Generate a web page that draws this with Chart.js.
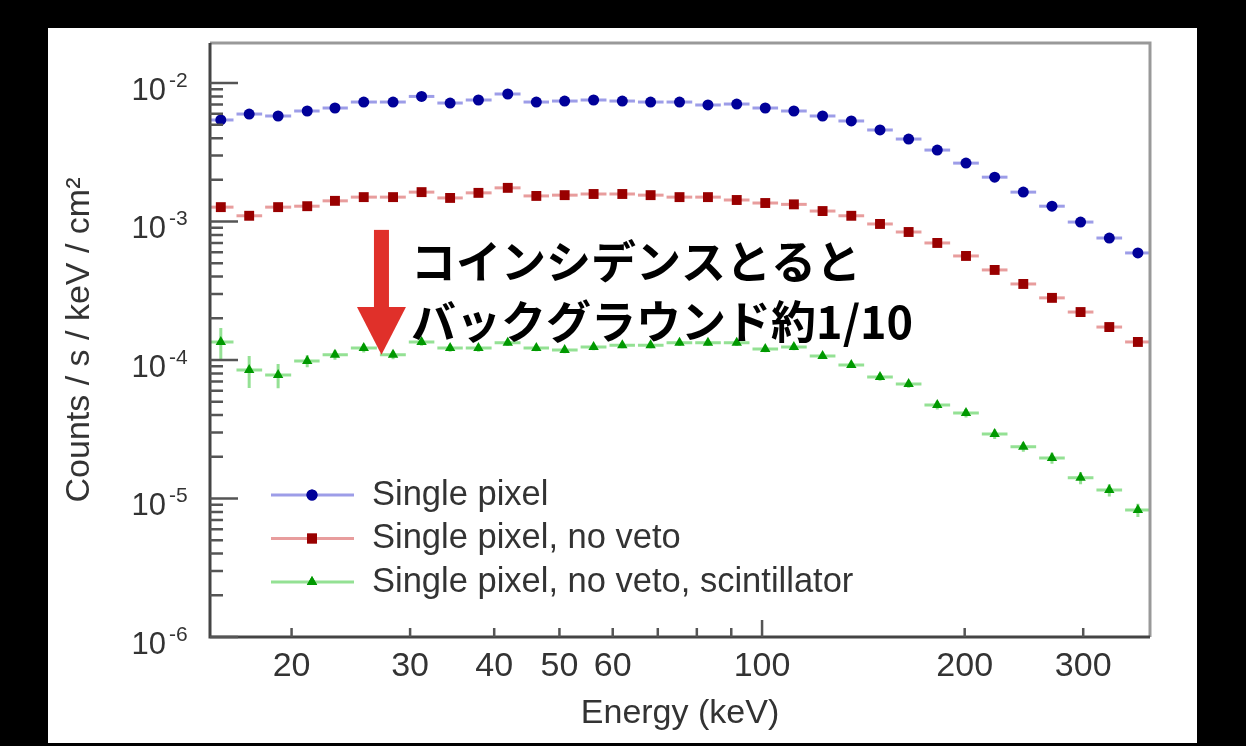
<!DOCTYPE html>
<html>
<head>
<meta charset="utf-8">
<script src="https://cdn.jsdelivr.net/npm/chart.js@4.4.0/dist/chart.umd.min.js"></script>
<style>
html, body { margin: 0; padding: 0; background: #000; width: 1246px; height: 746px; overflow: hidden; }
#panel { position: absolute; left: 48px; top: 28px; width: 1149px; height: 715px; background: #fff; }
</style>
</head>
<body>
<div id="panel"><canvas id="spectrum" width="1149" height="715"></canvas></div>
<script>
// bin centres (keV)
const energies = [15.7, 17.3, 19.1, 21.1, 23.2, 25.6, 28.3, 31.2, 34.4, 37.9, 41.9, 46.2, 50.9, 56.2, 62.0, 68.3,
    75.4, 83.1, 91.7, 101.1, 111.5, 123.0, 135.7, 149.7, 165.1, 182.1, 200.9, 221.6, 244.4, 269.6, 297.3, 328.0, 361.7];

const singlePixel = [5.41e-3, 5.97e-3, 5.78e-3, 6.28e-3, 6.60e-3, 7.29e-3, 7.29e-3, 8.0e-3, 7.17e-3, 7.54e-3, 8.33e-3,
    7.29e-3, 7.41e-3, 7.54e-3, 7.41e-3, 7.29e-3, 7.29e-3, 6.94e-3, 7.05e-3, 6.60e-3, 6.28e-3, 5.78e-3, 5.32e-3,
    4.58e-3, 3.94e-3, 3.28e-3, 2.64e-3, 2.09e-3, 1.63e-3, 1.29e-3, 9.91e-4, 7.60e-4, 5.93e-4];

const noVeto = [1.27e-3, 1.10e-3, 1.27e-3, 1.29e-3, 1.41e-3, 1.50e-3, 1.50e-3, 1.63e-3, 1.48e-3, 1.61e-3, 1.75e-3,
    1.53e-3, 1.55e-3, 1.58e-3, 1.58e-3, 1.55e-3, 1.50e-3, 1.50e-3, 1.43e-3, 1.36e-3, 1.33e-3, 1.19e-3, 1.10e-3,
    9.60e-4, 8.40e-4, 7.00e-4, 5.64e-4, 4.47e-4, 3.54e-4, 2.81e-4, 2.22e-4, 1.73e-4, 1.35e-4];

const scintillator = [1.35e-4, 8.47e-5, 7.80e-5, 9.84e-5, 1.09e-4, 1.22e-4, 1.09e-4, 1.35e-4, 1.22e-4, 1.22e-4, 1.33e-4,
    1.22e-4, 1.18e-4, 1.24e-4, 1.28e-4, 1.28e-4, 1.33e-4, 1.33e-4, 1.33e-4, 1.20e-4, 1.24e-4, 1.07e-4, 9.20e-5,
    7.54e-5, 6.71e-5, 4.73e-5, 4.14e-5, 2.92e-5, 2.36e-5, 1.96e-5, 1.41e-5, 1.15e-5, 8.26e-6];

// relative statistical error of the scintillator spectrum
const scintillatorErr = [0.26, 0.26, 0.2, 0.1, 0.08, 0.07, 0.07, 0.06, 0.06, 0.06, 0.05, 0.05, 0.05, 0.05, 0.05, 0.05,
    0.05, 0.05, 0.05, 0.05, 0.05, 0.05, 0.05, 0.06, 0.06, 0.07, 0.07, 0.08, 0.08, 0.09, 0.1, 0.1, 0.11];

const seriesLabels = ['Single pixel', 'Single pixel, no veto', 'Single pixel, no veto, scintillator'];
const xTickLabels = [20, 30, 40, 50, 60, 100, 200, 300];
const yDecades = [-6, -5, -4, -3, -2];

const FONT = '"Liberation Sans", Arial, sans-serif';
const TEXT = '#333';

const styles = [
    { marker: '#000099', bar: 'rgba(60,60,210,0.5)', pointStyle: 'circle', radius: 5.5 },
    { marker: '#990000', bar: 'rgba(210,60,60,0.5)', pointStyle: 'rect', radius: 7 },
    { marker: '#009900', bar: 'rgba(60,200,60,0.55)', pointStyle: 'triangle', radius: 6 }
];

function makeDataset(values, i, errs) {
    return {
        label: seriesLabels[i],
        data: energies.map((e, j) => ({ x: e, y: values[j] })),
        errs: errs,
        showLine: false,
        pointStyle: styles[i].pointStyle,
        pointRadius: styles[i].radius,
        pointBackgroundColor: styles[i].marker,
        pointBorderWidth: 0,
        barColor: styles[i].bar
    };
}

// horizontal bin bars + vertical error bars
const errorBars = {
    id: 'errorBars',
    beforeDatasetsDraw(chart) {
        const ctx = chart.ctx;
        const xs = chart.scales.x, ys = chart.scales.y;
        ctx.save();
        ctx.lineWidth = 3;
        chart.data.datasets.forEach(ds => {
            ctx.strokeStyle = ds.barColor;
            const px = ds.data.map(p => xs.getPixelForValue(p.x));
            ds.data.forEach((p, j) => {
                const x = px[j];
                const left = j > 0 ? (x + px[j - 1]) / 2 : x - (px[j + 1] - x) / 2;
                const right = j < px.length - 1 ? (x + px[j + 1]) / 2 : x + (x - px[j - 1]) / 2;
                const y = ys.getPixelForValue(p.y);
                ctx.beginPath();
                ctx.moveTo(Math.max(left + 1.5, chart.chartArea.left), y);
                ctx.lineTo(Math.min(right - 1.5, chart.chartArea.right), y);
                if (ds.errs) {
                    const e = ds.errs[j] * p.y;
                    ctx.moveTo(x, ys.getPixelForValue(p.y + e));
                    ctx.lineTo(x, ys.getPixelForValue(p.y - e));
                }
                ctx.stroke();
            });
        });
        ctx.restore();
    }
};

// ROOT-like frame, inward ticks, superscript y labels, legend and annotation
const decorations = {
    id: 'decorations',
    afterDraw(chart) {
        const ctx = chart.ctx;
        const a = chart.chartArea;
        const xs = chart.scales.x, ys = chart.scales.y;
        ctx.save();

        // frame
        ctx.lineWidth = 3;
        ctx.strokeStyle = '#999';
        ctx.beginPath();
        ctx.moveTo(a.left, a.top); ctx.lineTo(a.right, a.top); ctx.lineTo(a.right, a.bottom);
        ctx.stroke();
        ctx.strokeStyle = '#444';
        ctx.beginPath();
        ctx.moveTo(a.left, a.top); ctx.lineTo(a.left, a.bottom); ctx.lineTo(a.right, a.bottom);
        ctx.stroke();

        // y ticks
        ctx.lineWidth = 2.5;
        ctx.strokeStyle = '#555';
        ctx.beginPath();
        yDecades.forEach(d => {
            for (let m = 1; m <= 9; m++) {
                const v = m * Math.pow(10, d);
                if (v > ys.max) break;
                const y = ys.getPixelForValue(v);
                ctx.moveTo(a.left, y);
                ctx.lineTo(a.left + (m === 1 ? 28 : 13), y);
            }
        });
        // x ticks
        [1, 2].forEach(d => {
            for (let m = 1; m <= 9; m++) {
                const v = m * Math.pow(10, d);
                if (v < xs.min || v > xs.max) continue;
                const x = xs.getPixelForValue(v);
                ctx.moveTo(x, a.bottom);
                ctx.lineTo(x, a.bottom - (m === 1 ? 17 : 9));
            }
        });
        ctx.stroke();

        // y labels 10^n
        ctx.fillStyle = TEXT;
        ctx.textBaseline = 'middle';
        yDecades.forEach(d => {
            const y = ys.getPixelForValue(Math.pow(10, d));
            ctx.font = '31px ' + FONT;
            ctx.textAlign = 'right';
            ctx.fillText('10', a.left - 44, y + 8);
            ctx.font = '21px ' + FONT;
            ctx.textAlign = 'left';
            ctx.fillText('-' + Math.abs(d), a.left - 41, y - 2);
        });

        // legend
        const lx = a.left + 61, ly = a.top + 452, lh = 43.5;
        chart.data.datasets.forEach((ds, i) => {
            const y = ly + i * lh;
            ctx.strokeStyle = ds.barColor;
            ctx.lineWidth = 3;
            ctx.beginPath();
            ctx.moveTo(lx, y); ctx.lineTo(lx + 83, y);
            ctx.stroke();
            ctx.fillStyle = ds.pointBackgroundColor;
            Chart.helpers.drawPoint(ctx, { pointStyle: ds.pointStyle, radius: ds.pointRadius, rotation: 0, borderWidth: 0 }, lx + 41, y);
            ctx.fill();
            ctx.fillStyle = TEXT;
            ctx.font = '34.5px ' + FONT;
            ctx.textAlign = 'left';
            ctx.textBaseline = 'middle';
            ctx.fillText(ds.label, lx + 101, y);
        });

        // annotation arrow, anchored in data coordinates
        const ax = xs.getPixelForValue(27.2);
        const yTop = ys.getPixelForValue(8.7e-4);
        const yBase = ys.getPixelForValue(2.41e-4);
        const yTip = ys.getPixelForValue(1.09e-4);
        ctx.fillStyle = '#e0302a';
        ctx.fillRect(ax - 7.5, yTop, 15, yBase - yTop + 1);
        ctx.beginPath();
        ctx.moveTo(ax - 24.5, yBase);
        ctx.lineTo(ax + 24.5, yBase);
        ctx.lineTo(ax, yTip);
        ctx.closePath();
        ctx.fill();

        const tx = xs.getPixelForValue(30.1);
        ctx.fillStyle = '#000';
        ctx.font = 'bold 45px "Noto Sans CJK JP", sans-serif';
        ctx.textAlign = 'left';
        ctx.textBaseline = 'middle';
        ctx.fillText('コインシデンスとると', tx, ys.getPixelForValue(5.1e-4));
        ctx.fillText('バックグラウンド約1/10', tx, ys.getPixelForValue(1.88e-4));

        ctx.restore();
    }
};

new Chart(document.getElementById('spectrum'), {
    type: 'scatter',
    data: {
        datasets: [
            makeDataset(singlePixel, 0, null),
            makeDataset(noVeto, 1, null),
            makeDataset(scintillator, 2, scintillatorErr)
        ]
    },
    options: {
        responsive: false,
        animation: false,
        devicePixelRatio: 1,
        layout: { padding: { top: 15, right: 47, left: 0, bottom: 0 } },
        plugins: { legend: { display: false }, tooltip: { enabled: false } },
        scales: {
            x: {
                type: 'logarithmic',
                min: 15.13,
                max: 377,
                grid: { display: false },
                border: { display: false },
                afterBuildTicks: axis => { axis.ticks = xTickLabels.map(v => ({ value: v })); },
                afterFit: axis => { axis.height = 106; },
                ticks: {
                    autoSkip: false,
                    maxRotation: 0,
                    padding: 1,
                    color: TEXT,
                    font: { family: FONT, size: 34 },
                    callback: v => String(v)
                },
                title: {
                    display: true,
                    text: 'Energy (keV)',
                    color: TEXT,
                    font: { family: FONT, size: 34 },
                    padding: { top: 0, bottom: 9 }
                }
            },
            y: {
                type: 'logarithmic',
                min: 1e-6,
                max: 1.945e-2,
                grid: { display: false },
                border: { display: false },
                ticks: { display: false },
                afterFit: axis => { axis.width = 162; },
                title: {
                    display: true,
                    text: 'Counts / s / keV / cm²',
                    color: TEXT,
                    font: { family: FONT, size: 34 },
                    padding: { top: 11, bottom: 0 }
                }
            }
        }
    },
    plugins: [errorBars, decorations]
});
</script>
</body>
</html>
